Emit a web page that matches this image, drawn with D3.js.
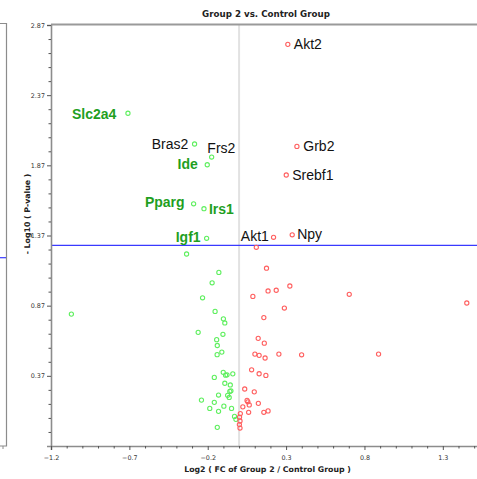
<!DOCTYPE html>
<html>
<head>
<meta charset="utf-8">
<script src="https://cdn.jsdelivr.net/npm/d3@7"></script>
<style>
  html, body { margin: 0; padding: 0; background: #fff; }
  svg { display: block; }
</style>
</head>
<body>
<div id="chart"></div>
<script>
// labelled genes
const labelGenes = ["Akt2", "Grb2", "Srebf1", "Npy", "Akt1", "Slc2a4", "Bras2", "Frs2", "Ide", "Pparg", "Irs1", "Igf1"];
const labelFC    = [0.311, 0.369, 0.301, 0.339, 0.220, -0.709, -0.284, -0.175, -0.203, -0.290, -0.224, -0.207];
const labelP     = [2.732, 2.005, 1.801, 1.375, 1.357, 2.241, 2.022, 1.929, 1.874, 1.596, 1.561, 1.350];
const labelGroup = ["up", "up", "up", "up", "up", "down", "down", "down", "down", "down", "down", "down"];
const labelBold  = [false, false, false, false, false, true, false, false, true, true, true, true];

// other down-regulated genes (log2 FC, -log10 p)
const downFC = [-0.335, -0.129, -0.172, -0.233, -1.070, -0.153, -0.100, -0.091, -0.261, -0.103,
                -0.143, -0.139, -0.110, -0.140, -0.101, -0.086, -0.077, -0.040, -0.158, -0.091,
                -0.056, -0.059, -0.052, -0.073, -0.063, -0.131, -0.240, -0.158, -0.097, -0.048,
                -0.187, -0.131, -0.029, -0.020, -0.139];
const downP  = [1.238, 1.107, 1.033, 0.926, 0.810, 0.829, 0.776, 0.747, 0.680, 0.666,
                0.628, 0.586, 0.539, 0.521, 0.395, 0.375, 0.377, 0.384, 0.359, 0.317,
                0.305, 0.259, 0.263, 0.231, 0.216, 0.233, 0.197, 0.181, 0.154, 0.138,
                0.138, 0.117, 0.081, 0.060, 0.003];

// other up-regulated genes
const upFC = [0.110, 0.175, 0.324, 0.237, 0.185, 0.088, 0.703, 1.453, 0.289, 0.158,
              0.122, 0.161, 0.101, 0.128, 0.166, 0.254, 0.399, 0.890, 0.080, 0.128,
              0.171, 0.036, 0.097, 0.051, 0.056, 0.065, 0.123, 0.024, 0.061, 0.158,
              0.185, 0.008, 0.003, 0.006, 0.002, 0.006];
const upP  = [1.286, 1.137, 1.010, 0.980, 0.975, 0.936, 0.951, 0.889, 0.853, 0.785,
              0.637, 0.603, 0.525, 0.516, 0.497, 0.525, 0.520, 0.525, 0.413, 0.385,
              0.373, 0.276, 0.256, 0.195, 0.185, 0.163, 0.174, 0.149, 0.110, 0.110,
              0.120, 0.101, 0.076, 0.048, 0.023, -0.002];

const xMajorTicks = [-1.2, -0.7, -0.2, 0.3, 0.8, 1.3];
const xMinorTicks = [-1.1, -1.0, -0.9, -0.8, -0.6, -0.5, -0.4, -0.3, -0.1, 0.0, 0.1, 0.2,
                     0.4, 0.5, 0.6, 0.7, 0.9, 1.0, 1.1, 1.2, 1.4, 1.5];
const yMajorTicks = [0.37, 0.87, 1.37, 1.87, 2.37, 2.87];
const yMinorTicks = [-0.03, 0.07, 0.17, 0.27, 0.47, 0.57, 0.67, 0.77, 0.97, 1.07, 1.17, 1.27,
                     1.47, 1.57, 1.67, 1.77, 1.97, 2.07, 2.17, 2.27, 2.47, 2.57, 2.67, 2.77];
const pThreshold = 1.30; // -log10(0.05)

const titleText = "Group 2 vs. Control Group";
const xLabelText = "Log2 ( FC of Group 2 / Control Group )";
const yLabelText = "- Log10 ( P-value )";

// label placement (offsets from the point, in px)
const labelOffsets = {
    Akt2:   { dx: 6,   dy: 4.7, anchor: "start" },
    Grb2:   { dx: 6.4, dy: 4.7, anchor: "start" },
    Srebf1: { dx: 6,   dy: 4.7, anchor: "start" },
    Npy:    { dx: 5,   dy: 4.3, anchor: "start" },
    Akt1:   { dx: -4.7, dy: 3.6, anchor: "end" },
    Slc2a4: { dx: -11.6, dy: 5.5, anchor: "end" },
    Bras2:  { dx: -6.3, dy: 4.7, anchor: "end" },
    Frs2:   { dx: -4.3, dy: -4.3, anchor: "start" },
    Ide:    { dx: -9.4, dy: 4.6, anchor: "end" },
    Pparg:  { dx: -9,  dy: 3.6, anchor: "end" },
    Irs1:   { dx: 5,   dy: 5,   anchor: "start" },
    Igf1:   { dx: -6,  dy: 3.8, anchor: "end" }
};

const svgWidth = 477;
const svgHeight = 479;
const plot = { left: 51, right: 482, top: 25, bottom: 446 };

const upColor = "#ff5f5f";
const downColor = "#5fef5f";
const labelGreen = "#1f9f1f";
const axisGray = "#8c8c8c";

const svg = d3.select("#chart").append("svg")
    .attr("width", svgWidth)
    .attr("height", svgHeight);

const xScale = d3.scaleLinear()
    .domain([-1.2, 1.55])
    .range([plot.left, plot.right]);

const yScale = d3.scaleLinear()
    .domain([-0.13, 2.87])
    .range([plot.bottom, plot.top]);

// remains of the neighbouring panel on the left
svg.append("path")
    .attr("d", `M0,23.5H6.5V${plot.bottom}H0`)
    .attr("fill", "none")
    .attr("stroke", axisGray)
    .attr("stroke-width", 1.2);
svg.append("line")
    .attr("x1", 3).attr("x2", 3)
    .attr("y1", plot.bottom).attr("y2", plot.bottom + 3)
    .attr("stroke", axisGray);
svg.append("line")
    .attr("x1", 0).attr("x2", 6)
    .attr("y1", 257.7).attr("y2", 257.7)
    .attr("stroke", "#3a3aff")
    .attr("stroke-width", 1.2);

// title
svg.append("text")
    .attr("x", 266)
    .attr("y", 16.5)
    .attr("text-anchor", "middle")
    .style("font-family", "DejaVu Sans, Verdana, sans-serif")
    .style("font-weight", "bold")
    .style("font-size", "8.7px")
    .attr("fill", "#222")
    .text(titleText);

// zero line
svg.append("line")
    .attr("x1", xScale(0)).attr("x2", xScale(0))
    .attr("y1", plot.top).attr("y2", plot.bottom)
    .attr("stroke", "#e2e2e2")
    .attr("stroke-width", 2);

// threshold line
svg.append("line")
    .attr("x1", plot.left).attr("x2", plot.right)
    .attr("y1", yScale(pThreshold)).attr("y2", yScale(pThreshold))
    .attr("stroke", "#3a3aff")
    .attr("stroke-width", 1.2);

// top border
svg.append("line")
    .attr("x1", plot.left).attr("x2", svgWidth)
    .attr("y1", plot.top - 0.5).attr("y2", plot.top - 0.5)
    .attr("stroke", "#9a9a9a")
    .attr("stroke-width", 2);

// axes
const tickFont = "DejaVu Sans, Verdana, sans-serif";

const yAxis = svg.append("g")
    .attr("transform", `translate(${plot.left},0)`)
    .call(d3.axisLeft(yScale).tickValues(yMajorTicks).tickSize(4).tickPadding(2).tickFormat(d3.format(".2f")));
svg.append("g")
    .attr("transform", `translate(${plot.left},0)`)
    .call(d3.axisLeft(yScale).tickValues(yMinorTicks).tickSize(2.5).tickFormat(""))
    .select(".domain").remove();

const xAxis = svg.append("g")
    .attr("transform", `translate(0,${plot.bottom})`)
    .call(d3.axisBottom(xScale).tickValues(xMajorTicks).tickSize(4).tickPadding(5).tickFormat(d3.format(".1f")));
svg.append("g")
    .attr("transform", `translate(0,${plot.bottom})`)
    .call(d3.axisBottom(xScale).tickValues(xMinorTicks).tickSize(2.5).tickFormat(""))
    .select(".domain").remove();

svg.selectAll(".tick line")
    .attr("stroke", "#555");
svg.selectAll(".domain")
    .attr("stroke", axisGray)
    .attr("stroke-width", 1.6);
svg.selectAll(".tick text")
    .attr("fill", "#333")
    .style("font-family", tickFont)
    .style("font-size", "6.4px");

// axis titles
svg.append("text")
    .attr("x", 267.5)
    .attr("y", 472)
    .attr("text-anchor", "middle")
    .style("font-family", tickFont)
    .style("font-weight", "bold")
    .style("font-size", "7.8px")
    .attr("fill", "#222")
    .text(xLabelText);

svg.append("text")
    .attr("transform", "translate(29.5,214) rotate(-90)")
    .attr("text-anchor", "middle")
    .style("font-family", tickFont)
    .style("font-weight", "bold")
    .style("font-size", "7.8px")
    .attr("fill", "#222")
    .text(yLabelText);

// points
const pts = svg.append("g");

pts.selectAll("circle.down")
    .data(downFC)
    .enter()
    .append("circle")
    .attr("class", "down")
    .attr("cx", d => xScale(d))
    .attr("cy", (d, i) => yScale(downP[i]))
    .attr("r", 2.1)
    .attr("fill", "none")
    .attr("stroke", downColor)
    .attr("stroke-width", 1.1);

pts.selectAll("circle.up")
    .data(upFC)
    .enter()
    .append("circle")
    .attr("class", "up")
    .attr("cx", d => xScale(d))
    .attr("cy", (d, i) => yScale(upP[i]))
    .attr("r", 2.1)
    .attr("fill", "none")
    .attr("stroke", upColor)
    .attr("stroke-width", 1.1);

pts.selectAll("circle.lab")
    .data(labelGenes)
    .enter()
    .append("circle")
    .attr("class", "lab")
    .attr("cx", (d, i) => xScale(labelFC[i]))
    .attr("cy", (d, i) => yScale(labelP[i]))
    .attr("r", 2.1)
    .attr("fill", "none")
    .attr("stroke", (d, i) => labelGroup[i] === "up" ? upColor : downColor)
    .attr("stroke-width", 1.1);

svg.append("g").selectAll("text")
    .data(labelGenes)
    .enter()
    .append("text")
    .attr("x", (d, i) => xScale(labelFC[i]) + labelOffsets[d].dx)
    .attr("y", (d, i) => yScale(labelP[i]) + labelOffsets[d].dy)
    .attr("text-anchor", d => labelOffsets[d].anchor)
    .style("font-family", "Liberation Sans, Arial, sans-serif")
    .style("font-size", "14px")
    .style("font-weight", (d, i) => labelBold[i] ? "bold" : "normal")
    .attr("fill", (d, i) => labelBold[i] ? labelGreen : "#111")
    .text(d => d);
</script>
</body>
</html>
